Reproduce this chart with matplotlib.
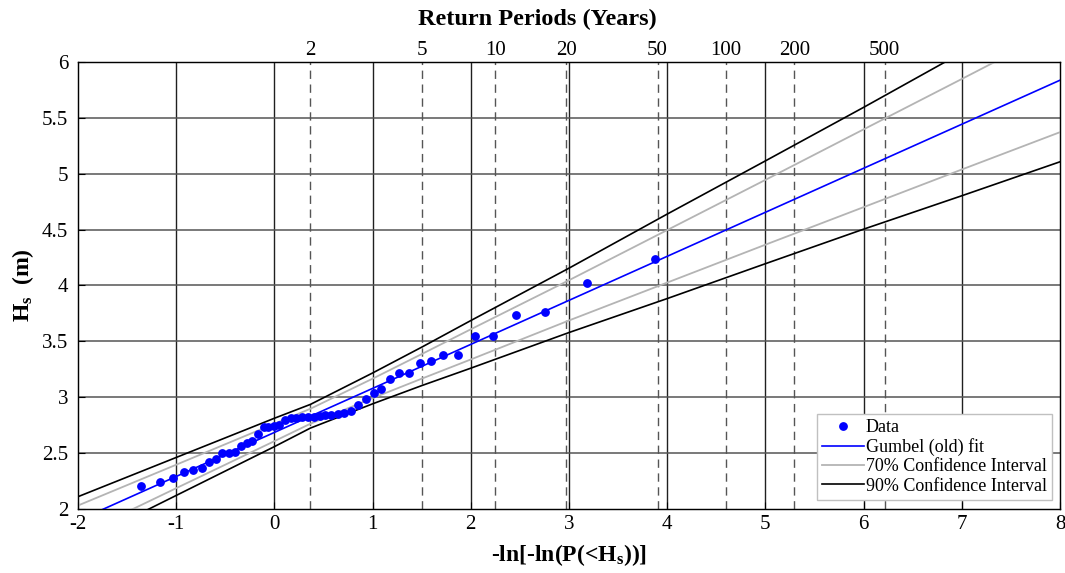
import numpy as np
import matplotlib
matplotlib.use('Agg')
from matplotlib import pyplot as plt

plt.rcParams['font.family'] = ['Liberation Serif', 'DejaVu Serif']
plt.rcParams['mathtext.fontset'] = 'custom'
plt.rcParams['mathtext.rm'] = 'Liberation Serif'
plt.rcParams['mathtext.bf'] = 'Liberation Serif:bold'
plt.rcParams['mathtext.it'] = 'Liberation Serif:italic'
plt.rcParams['axes.unicode_minus'] = False

# reduced variate of each sample (x) and measured Hs (y)
data_x = [-1.36, -1.16, -1.03, -0.92, -0.83, -0.74, -0.67, -0.59, -0.53, -0.46,
          -0.40, -0.34, -0.28, -0.23, -0.17, -0.11, -0.06, 0.00, 0.05, 0.11,
          0.17, 0.22, 0.28, 0.34, 0.40, 0.46, 0.52, 0.58, 0.65, 0.71,
          0.78, 0.85, 0.93, 1.01, 1.09, 1.18, 1.27, 1.37, 1.48, 1.60,
          1.72, 1.87, 2.04, 2.23, 2.46, 2.76, 3.18, 3.88]
data_hs = [2.21, 2.24, 2.28, 2.33, 2.35, 2.37, 2.42, 2.45, 2.50, 2.50,
           2.51, 2.56, 2.59, 2.61, 2.67, 2.73, 2.73, 2.74, 2.75, 2.80,
           2.81, 2.81, 2.82, 2.82, 2.82, 2.83, 2.84, 2.84, 2.85, 2.86,
           2.88, 2.93, 2.98, 3.04, 3.07, 3.16, 3.22, 3.22, 3.31, 3.32,
           3.38, 3.38, 3.55, 3.55, 3.74, 3.76, 4.02, 4.24]

# fitted line and confidence bands, read at these x
curve_x = [-2, -1, 0, 0.367, 1, 1.5, 2, 3, 4, 5, 6, 7, 8]
fit_y = [1.897, 2.291, 2.685, 2.830, 3.079, 3.276, 3.473, 3.867, 4.261, 4.655, 5.049, 5.443, 5.837]
ci70_hi = [2.031, 2.396, 2.763, 2.897, 3.166, 3.386, 3.608, 4.047, 4.496, 4.945, 5.397, 5.848, 6.302]
ci70_lo = [1.763, 2.186, 2.607, 2.763, 2.992, 3.166, 3.338, 3.687, 4.026, 4.365, 4.701, 5.038, 5.372]
ci90_hi = [2.110, 2.461, 2.812, 2.936, 3.217, 3.448, 3.686, 4.155, 4.639, 5.115, 5.594, 6.083, 6.567]
ci90_lo = [1.684, 2.121, 2.558, 2.724, 2.941, 3.104, 3.260, 3.579, 3.883, 4.195, 4.504, 4.803, 5.107]

return_periods = [2, 5, 10, 20, 50, 100, 200, 500]
rp_x = [-np.log(-np.log(1 - 1 / T)) for T in return_periods]

fig = plt.figure(figsize=(10.65, 5.73), dpi=100)
ax = fig.add_axes([0.0732, 0.1117, 0.9221, 0.7801])

# grid: vertical solid at integers, horizontal every 0.5
for xv in range(-1, 8):
    ax.axvline(xv, color='#202020', lw=1.0, zorder=1)
for yv in np.arange(2.5, 6.0, 0.5):
    ax.axhline(yv, color='#555555', lw=1.1, zorder=1)
for xv in rp_x:
    ax.axvline(xv, color='#555555', lw=1.0, ls=(0, (6, 4)), zorder=1)

ax.plot(data_x, data_hs, 'o', color='#0000ff', ms=5.3, label='Data', zorder=5)
ax.plot(curve_x, fit_y, color='#0000ff', lw=1.2, label='Gumbel (old) fit', zorder=4)
ax.plot(curve_x, ci70_hi, color='#b4b4b4', lw=1.3, label='70% Confidence Interval', zorder=3)
ax.plot(curve_x, ci70_lo, color='#b4b4b4', lw=1.3, zorder=3)
ax.plot(curve_x, ci90_hi, color='black', lw=1.2, label='90% Confidence Interval', zorder=3)
ax.plot(curve_x, ci90_lo, color='black', lw=1.2, zorder=3)

ax.set_xlim(-2, 8)
ax.set_ylim(2, 6)
ax.set_xticks(range(-2, 9))
ax.set_yticks(np.arange(2, 6.01, 0.5))
ax.set_yticklabels(['2', '2.5', '3', '3.5', '4', '4.5', '5', '5.5', '6'])
ax.tick_params(direction='in', labelsize=15, length=5, width=0.8)
ax.tick_params(axis='y', pad=7)
ax.tick_params(axis='x', pad=4)
for s in ax.spines.values():
    s.set_color('#202020')
    s.set_linewidth(1.0)

ax.set_xlabel(r'-ln[-ln(P(<$\mathbf{H_s}$))]', fontsize=17, fontweight='bold', labelpad=6)
ax.set_ylabel(r'$\mathbf{H_s}$  (m)', fontsize=17, fontweight='bold', labelpad=4)

ax2 = ax.twiny()
ax2.set_xlim(-2, 8)
ax2.set_xticks(rp_x)
ax2.set_xticklabels([str(T) for T in return_periods])
ax2.tick_params(length=0, labelsize=15, pad=1.5)
fig.text(0.505, 0.966, 'Return Periods (Years)', fontsize=17.5, fontweight='bold',
         ha='center', va='center')

leg = ax.legend(loc='lower right', bbox_to_anchor=(0.992, 0.02), borderaxespad=0,
                fontsize=13, frameon=True, fancybox=False, framealpha=1,
                edgecolor='#c0c0c0', handlelength=2.3, handletextpad=0.1,
                labelspacing=0.12, borderpad=0.3)
leg.get_frame().set_linewidth(1.0)

fig.savefig('out.png', dpi=100)
